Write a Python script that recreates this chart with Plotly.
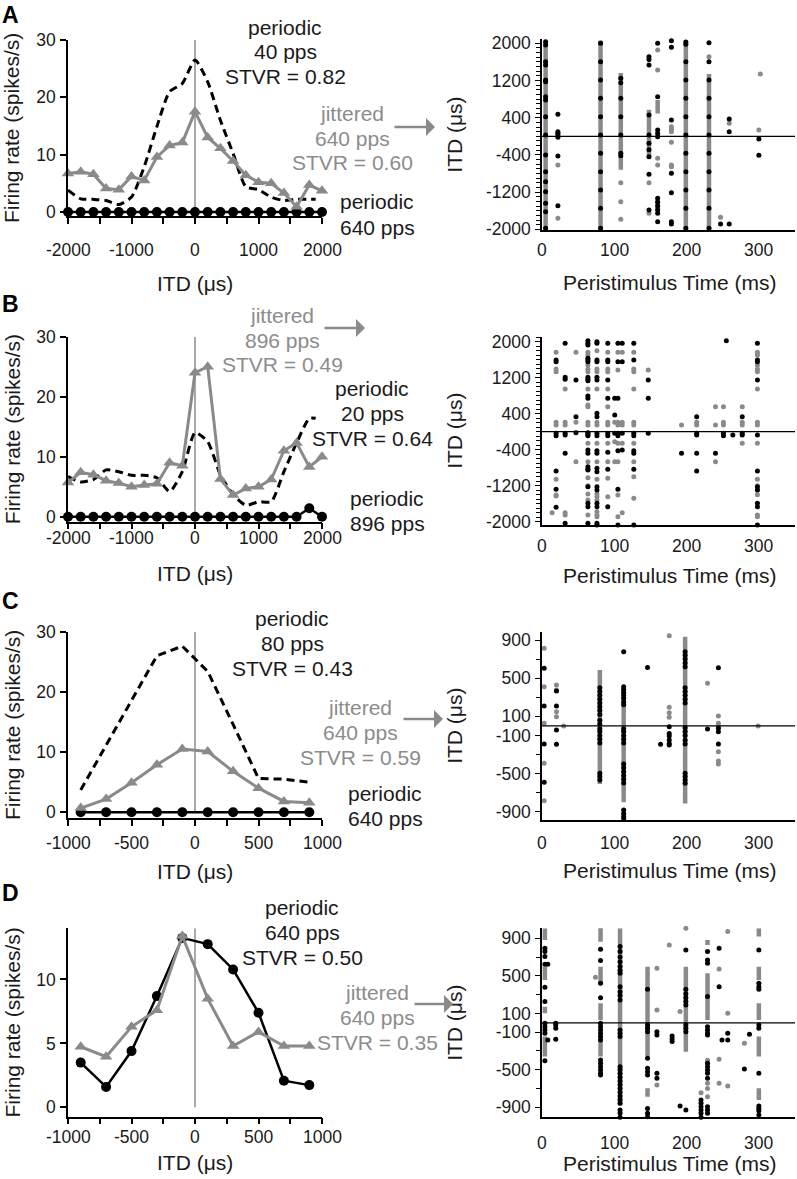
import plotly.graph_objects as go

W, H = 797, 1179
FONT = "Liberation Sans, Arial, sans-serif"
GRAY = "#8a8a8a"
TXTGRAY = "#8c8c8c"

# ---------------- tuning-curve data ----------------
itd_AB = [-2000, -1800, -1600, -1400, -1200, -1000, -800, -600, -400, -200, 0,
          200, 400, 600, 800, 1000, 1200, 1400, 1600, 1800, 2000]
itd_dash_AB = [-2000, -1800, -1600, -1400, -1200, -1000, -800, -600, -400, -200, 0,
               200, 400, 600, 800, 1000, 1200, 1400, 1600, 1800, 1900]
itd_CD = [-900, -700, -500, -300, -100, 100, 300, 500, 700, 900]

A_periodic40 = [3.8, 2.3, 2.2, 2.0, 1.3, 2.6, 7.9, 14.9, 21.0, 22.4, 26.5,
                22.7, 16.0, 10.2, 4.4, 3.9, 2.6, 2.0, 2.2, 2.2, 2.2]
A_jittered640 = [6.7, 7.0, 6.6, 4.1, 3.9, 6.2, 5.5, 9.6, 11.6, 12.1, 17.5,
                 13.0, 11.1, 8.9, 6.4, 5.2, 5.0, 3.3, 0.9, 4.7, 3.7]
A_periodic640 = [0] * 21

B_periodic20 = [6.7, 5.8, 6.2, 7.8, 7.5, 6.9, 6.9, 6.5, 4.2, 7.5, 14.0,
                12.5, 7.0, 3.7, 1.9, 2.5, 2.5, 7.5, 12.3, 16.4, 16.4]
B_jittered896 = [5.7, 7.4, 7.0, 6.0, 5.6, 5.0, 5.3, 5.5, 9.0, 8.5, 24.0,
                 25.0, 6.3, 3.6, 4.7, 5.0, 6.2, 11.0, 12.3, 8.3, 10.0]
B_periodic896 = [0, 0, 0, 0, 0, 0, 0, 0, 0, 0, 0, 0, 0, 0, 0, 0, 0, 0, 0, 1.4, 0]

C_periodic80 = [3.7, 11.1, 18.7, 26.0, 27.6, 23.4, 14.6, 5.6, 5.5, 5.0]
C_jittered640 = [0.7, 2.2, 4.9, 7.9, 10.5, 10.1, 6.8, 4.0, 1.8, 1.6]
C_periodic640 = [0] * 10

D_periodic640 = [3.5, 1.6, 4.4, 8.7, 13.25, 12.76, 10.78, 7.4, 2.08, 1.74]
D_jittered640 = [4.74, 3.96, 6.3, 7.6, 13.4, 8.5, 4.8, 5.9, 4.8, 4.8]

# tick labels
ticks_AB = [-2000, -1500, -1000, -500, 0, 500, 1000, 1500, 2000]
labels_AB = [-2000, -1000, 0, 1000, 2000]
ticks_CD = [-1000, -750, -500, -250, 0, 250, 500, 750, 1000]
labels_CD = [-1000, -500, 0, 500, 1000]
labels_time = [0, 100, 200, 300]
ylabels_rate = [[0, 10, 20, 30], [0, 10, 20, 30], [0, 10, 20, 30], [0, 5, 10]]
ylabels_itd_AB = [2000, 1200, 400, -400, -1200, -2000]
ylabels_itd_CD = [900, 500, 100, -100, -500, -900]

# ---------------- raster data: (time ms, ITD list) ----------------
A_gray_runs = [(5, 2050, -2050), (81, 2060, -2050), (109, 1360, -720), (148, 570, -440),
               (160, 780, 490), (199, 2060, -2050), (231, 1340, -1990)]
A_gray = [(22, [-616, -1763]), (109, [-1000, -1405, -1785]), (148, [-996, -1656]),
          (160, [1857, 1427, -473, -616, -1400, -1480, -1550]),
          (179, [208, 150, 100, -129, -616, -652]), (231, [1713]), (247, [-1742]),
          (259, [280]), (300, [136]), (302, [1340])]
A_black = [(5, [2036, 1964, 1606, 1534, 1212, 1176, 853, 781, 423, 29, -401, -760, -975,
                -1190, -1441, -1620, -1978]),
           (22, [473, 100, 65, 30, -20, -423, -1491]),
           (81, [2000, 1606, 1212, 817, 423, 29, -365, -760, -1154, -1548, -1978, -2030]),
           (109, [1250, 1150, 817, 423, 29, -365, -420]),
           (148, [1713, 1650, 1534, 459, 29, -150, -290, -437, -817, -1584]),
           (160, [2000, 853, 136, 60, -7, -1333, -1420, -1500, -1584, -1656, -1835]),
           (179, [2057, 1914, 351, -796, -1211, -1835, -1885]),
           (199, [2030, 1980, 1606, 1212, 817, 423, 29, -365, -760, -1154, -1548, -1978, -2030]),
           (231, [2014, 1606, 1212, 817, 423, 29, -365, -760, -1154, -1548, -1978]),
           (247, [-1885]), (259, [373, 100, -1885]), (300, [-57, -408])]

B_gray_runs = []
B_gray = [(14, [-1800]), (19.5, [1763, 1393, 1333, 207, 148, -1059, -1407, -1430]),
          (32, [948, 207, 148, -1800, -1852]), (47, [1763, 207, -667]),
          (63.5, [1763, 1704, 1481, 1393, 1333, 948, 593, 556, 207, 148, -259, -667, -1022,
                  -1200, -1385, -1519, -1852]),
          (76, [1800, 1393, 1333, 948, 207, 148, -259, -667, -1059, -1385, -1444, -1519,
                -1778, -1852, -1889]),
          (91, [1763, 1393, 1333, 948, 556, 207, 148, -259, -667, -1037, -1444]),
          (100.6, [207, -222, -667]),
          (105, [1763, 1370, 207, 148, -259, -667, -1407, -1889]),
          (111, [1763, 207, 148, -259, -1800]),
          (127, [1763, 1393, 1333, 948, 207, 148, -259, -667, -1000, -1481]),
          (147, [1370]), (193, [148]), (214, [207, 148]), (240, [556, 148, -667]),
          (251, [556, 207, 148]), (277, [556, 207, 148, -259]),
          (298, [1763, 1704, 1481, 1393, 1333, 948, 207, 148, -259, -1059, -1200, -1296,
                 -1400, -1852, -1889])]
B_black = [(19.5, [1593, 1556, -37, -89, -874, -1281, -1681]),
           (32, [1963, 1207, 1163, -37, -74, -481, -2037]),
           (47, [1148, 333, -22]),
           (63.5, [2022, 1963, 1926, 1630, 1593, 1556, 1207, 1163, 1133, 793, 741, -22, -37,
                   -74, -89, -407, -481, -778, -837, -852, -1222, -1593, -1667, -2037]),
           (76, [2000, 1963, 1593, 1556, 1207, 1148, 407, 333, -37, -89, -422, -481, -815,
                 -889, -1222, -1296, -1593, -1667, -2037, -2074]),
           (91, [1963, 1593, 1556, 1148, 741, -37, -89, -459, -837, -1667]),
           (100.6, [741, 370, -37]),
           (105, [1963, 1556, 741, -37, -89, -422, -1281, -2074]),
           (111, [1963, 1556, -37, -407]),
           (127, [1963, 1593, -37, -89, -422, -481, -837, -2074]),
           (147, [1148, 741, -37]), (193, [-481]), (214, [333, -37, -74, -481, -874]),
           (240, [-481]), (251, [-37, -89]), (255, [2022]), (264, [-74]),
           (277, [333, -37, -74]),
           (298, [1963, 1593, 1556, 1148, -74, -874, -1222, -1296, -1593, -1667, -2074])]

C_gray_runs = [(80, 585, -610), (113, 411, -800), (198, 935, -813)]
C_gray = [(3, [813, 411, 26, -393, -785]), (20, [428, 376, 149, 96]), (30, [-2]),
          (113, [1005]), (176, [945, 194, 138, 89]), (229, [446]),
          (244, [103, 26, -9, -271, -369, -400]), (299, [-2])]
C_black = [(3, [603, 208, -191, -592]), (20, [365, 208, -44, -194]),
           (80, [400, 360, 320, 280, 240, 200, 160, 120, 60, 20, -30, -60, -100, -140,
                 -180, -498, -530, -568]),
           (113, [778, 411, 380, 350, 320, 290, 250, 220, -30, -60, -100, -140, -180, -400,
                  -440, -480, -520, -560, -600, -883, -920, -950, -970]),
           (146, [613]), (164, [-194]), (176, [-9, -79, -107, -149, -184, -201]),
           (198, [778, 740, 700, 660, 620, 400, 360, 320, 280, 240, -20, -60, -100, -150,
                  -190, -498, -530, -568, -603]),
           (229, [-33]), (244, [610, -26, -61, -191])]

D_gray_runs = [(4, 1006, 882), (4, 598, 456), (4, 172, 101), (4, -147, -360),
               (81, 1024, 864), (81, 598, 421), (81, 208, 30), (81, -147, -360),
               (108, 1006, -880), (146, 598, -360), (146, -697, -786),
               (199, 598, -307), (229, 882, 829), (229, 527, 30),
               (300, 1006, 918), (300, 598, 456), (300, 208, 30), (300, -147, -360),
               (300, -697, -822)]
D_gray = [(74, [485]), (159, [581, 137, -662]), (176, [829]), (191, [119]), (199, [1006]),
          (220, [-744]), (229, [-400, -430, -644, -700, -786]), (245, [573, -389, -644]),
          (257, [971, 101, -673]), (280, [-218])]
D_black = [(4, [793, 760, 705, 623, 378, 226, -5, -41, -76, -112, -403]),
           (8, [623, -183]), (19, [-5, -23, -58, -176]),
           (81, [783, 662, 421, 268, -5, -41, -76, -112, -147, -183, -396, -431, -467, -502,
                 -538, -555]),
           (108, [811, 760, 700, 650, 600, 560, 527, 385, 330, 290, 243, -76, -112, -147,
                  -467, -500, -540, -580, -620, -660, -700, -740, -780, -820, -857, -928,
                  -960, -1006]),
           (146, [357, -23, -58, -94, -378, -485, -520, -555, -911, -964, -1000]),
           (159, [-94, -129, -538, -591]), (180, [-140, -170, -200]), (191, [-886]),
           (199, [776, 357, 310, 268, 226, 190, -23, -58, -94, -928]),
           (220, [-822, -857, -893, -928, -964, -1006]),
           (229, [758, 669, 634, 279, -41, -76, -112, -129, -431, -467, -502, -538, -591,
                  -893, -928, -964]),
           (245, [793, 385]), (249, [-183]), (257, [-112, -183]), (280, [-492]),
           (287, [-122]),
           (300, [776, 421, 385, 357, -23, -58, -538, -886, -911, -935, -982])]

# ---------------- layout geometry (pixels) ----------------
LEFT_X = (68, 322)
RIGHT_X = (542, 795)
left_rows = [(40, 216), (336.7, 521.7), (631.7, 818.3), (928.3, 1116.7)]
right_rows = [(39.3, 230), (336.7, 525), (631.7, 820), (928.3, 1117.3)]
left_yrange = [[-0.7, 30], [-0.83, 30], [-1.0, 30], [-0.73, 14]]
right_yrange = [[-2014, 2086], [-2074, 2111], [-987, 987], [-1006, 1006]]
left_xlabel_y = [250, 538, 843, 1137]
right_xlabel_y = [250, 546.5, 843, 1143]


def dx(a, b):
    return [a / W, b / W]


def dy(top, bottom):
    return [1 - bottom / H, 1 - top / H]


def px(x):
    return x / W


def py(y):
    return 1 - y / H


def flat(cols):
    xs, ys = [], []
    for t, vals in cols:
        for v in vals:
            xs.append(t)
            ys.append(v)
    return xs, ys


def runs(rs):
    xs, ys = [], []
    for t, a, b in rs:
        xs += [t, t, None]
        ys += [a, b, None]
    return xs, ys


fig = go.Figure()
layout = dict(template="none", width=W, height=H, margin=dict(l=0, r=0, t=0, b=0, pad=0),
              paper_bgcolor="white", plot_bgcolor="white", showlegend=False,
              font=dict(family=FONT, color="#1a1a1a"))

tickfont = dict(family=FONT, size=17.5, color="#1a1a1a")

curves = [
    [(itd_dash_AB, A_periodic40, "dash"), (itd_AB, A_periodic640, "circle"),
     (itd_AB, A_jittered640, "tri")],
    [(itd_dash_AB, B_periodic20, "dash"), (itd_AB, B_periodic896, "circle"),
     (itd_AB, B_jittered896, "tri")],
    [(itd_CD, C_periodic80, "dashlin"), (itd_CD, C_periodic640, "circle"),
     (itd_CD, C_jittered640, "tri")],
    [(itd_CD, D_periodic640, "circle"), (itd_CD, D_jittered640, "tri")],
]
rasters = [(A_gray_runs, A_gray, A_black), (B_gray_runs, B_gray, B_black),
           (C_gray_runs, C_gray, C_black), (D_gray_runs, D_gray, D_black)]

shapes = []
ann = []


def text(x, y, s, size=21, color="#1a1a1a", angle=0, xanchor="center", xref="paper"):
    ann.append(dict(x=px(x) if xref == "paper" else x, y=py(y), xref=xref, yref="paper",
                    text=s, showarrow=False, xanchor=xanchor, yanchor="middle",
                    textangle=angle, font=dict(family=FONT, size=size, color=color)))


for i in range(4):
    lx, ly = ("x", "y") if i == 0 else (f"x{2*i+1}", f"y{2*i+1}")
    rx, ry = f"x{2*i+2}", f"y{2*i+2}"
    lxk = "xaxis" if i == 0 else f"xaxis{2*i+1}"
    lyk = "yaxis" if i == 0 else f"yaxis{2*i+1}"
    wide = i < 2
    xt = ticks_AB if wide else ticks_CD
    xl = labels_AB if wide else labels_CD
    xr = [-2000, 2000] if wide else [-1000, 1000]
    yt = ylabels_rate[i]
    layout[lxk] = dict(domain=dx(*LEFT_X), range=xr, anchor=ly,
                       showline=True, linecolor="black", linewidth=1.5,
                       ticks="outside", ticklen=6, tickwidth=1.5,
                       tickcolor="black", tickvals=xt, showticklabels=False,
                       showgrid=False, zeroline=False, automargin=False)
    layout[lyk] = dict(domain=dy(*left_rows[i]), range=left_yrange[i],
                       anchor=lx, showline=True, linecolor="black",
                       linewidth=1.5, ticks="outside", ticklen=6,
                       tickwidth=1.5, tickcolor="black", tickvals=yt,
                       ticktext=[str(v) for v in yt], showgrid=False,
                       zeroline=False, tickfont=tickfont, automargin=False,
                       ticklabelstandoff=1)
    ryt = ylabels_itd_AB if wide else ylabels_itd_CD
    if wide:
        minor = dict(tickmode="linear", tick0=0, dtick=100, ticks="outside", ticklen=4,
                     tickwidth=1.2, tickcolor="black", showgrid=False)
    else:
        minor = dict(tickmode="linear", tick0=100, dtick=200, ticks="outside", ticklen=4,
                     tickwidth=1.2, tickcolor="black", showgrid=False)
    layout[f"xaxis{2*i+2}"] = dict(domain=dx(*RIGHT_X), range=[0, 350], anchor=ry,
                                   showline=True, linecolor="black", linewidth=1.5,
                                   ticks="", showticklabels=False, showgrid=False,
                                   zeroline=False, automargin=False)
    layout[f"yaxis{2*i+2}"] = dict(domain=dy(*right_rows[i]), range=right_yrange[i],
                                   anchor=rx, showline=True, linecolor="black",
                                   linewidth=1.5, ticks="outside", ticklen=5,
                                   tickwidth=1.2, tickcolor="black", tickvals=ryt,
                                   ticktext=[str(v) for v in ryt], minor=minor,
                                   showgrid=False, zeroline=False, tickfont=tickfont,
                                   automargin=False, ticklabelstandoff=1)

    # x tick labels placed on each axis' own data scale
    for v in xl:
        text(v, left_xlabel_y[i], str(v), size=17.5, xref=lx)
    for v in labels_time:
        text(v, right_xlabel_y[i], str(v), size=17.5, xref=rx)

    shapes.append(dict(type="line", xref=lx, yref=ly, x0=0, x1=0, y0=0,
                       y1=left_yrange[i][1], line=dict(color="#8c8c8c", width=1.5),
                       layer="below"))
    shapes.append(dict(type="line", xref=rx, yref=ry, x0=0, x1=350, y0=0, y1=0,
                       line=dict(color="black", width=1.3), layer="above"))

    for xs, ys, style in curves[i]:
        if style in ("dash", "dashlin"):
            fig.add_trace(go.Scatter(x=xs, y=ys, mode="lines", xaxis=lx, yaxis=ly,
                                     line=dict(color="black", width=3, dash="8px,5px",
                                               shape="spline" if style == "dash" else "linear",
                                               smoothing=0.6),
                                     cliponaxis=False))
        elif style == "circle":
            fig.add_trace(go.Scatter(x=xs, y=ys, mode="lines+markers", xaxis=lx, yaxis=ly,
                                     line=dict(color="black", width=2.5),
                                     marker=dict(symbol="circle", size=10, color="black"),
                                     cliponaxis=False))
        else:
            fig.add_trace(go.Scatter(x=xs, y=ys, mode="lines+markers", xaxis=lx, yaxis=ly,
                                     line=dict(color=GRAY, width=3),
                                     marker=dict(symbol="triangle-up", size=11, color=GRAY),
                                     cliponaxis=False))

    gr, gd, bd = rasters[i]
    if gr:
        rxs, rys = runs(gr)
        fig.add_trace(go.Scatter(x=rxs, y=rys, mode="lines", xaxis=rx, yaxis=ry,
                                 line=dict(color=GRAY, width=4.5), cliponaxis=False))
    gx, gy = flat(gd)
    fig.add_trace(go.Scatter(x=gx, y=gy, mode="markers", xaxis=rx, yaxis=ry,
                             marker=dict(size=5, color=GRAY), cliponaxis=False))
    bx, by = flat(bd)
    fig.add_trace(go.Scatter(x=bx, y=by, mode="markers", xaxis=rx, yaxis=ry,
                             marker=dict(size=5, color="black"), cliponaxis=False))

layout["shapes"] = shapes


def block(x, y_first, lines, color="#1a1a1a", step=25):
    for k, s in enumerate(lines):
        text(x, y_first + k * step, s, color=color)


def arrow(x0, x1, y):
    ann.append(dict(x=px(x1), y=py(y), xref="paper", yref="paper", text="",
                    showarrow=True, ax=x0 - x1, ay=0, arrowhead=1, arrowsize=1.2,
                    arrowwidth=2.5, arrowcolor=GRAY, standoff=0))


letters = [("A", 15), ("B", 304), ("C", 601), ("D", 893)]
for L, y in letters:
    text(0, y, f"<b>{L}</b>", size=23, color="black", xanchor="left")

for i in range(4):
    lt, lb = left_rows[i]
    rt, rb = right_rows[i]
    text(12, (lt + lb) / 2, "Firing rate (spikes/s)", angle=-90)
    text(455, (rt + rb) / 2, "ITD (μs)", angle=-90)

for y in [283, 573, 872, 1162]:
    text(195, y, "ITD (μs)")
for y in [282, 575, 870, 1163]:
    text(670, y, "Peristimulus Time (ms)")

# panel A
block(285, 27, ["periodic", "40 pps", "STVR = 0.82"])
block(352, 113, ["jittered", "640 pps", "STVR = 0.60"], color=TXTGRAY)
arrow(393, 435, 127)
block(377, 202, ["periodic", "640 pps"])
# panel B
block(282, 315, ["jittered", "896 pps", "STVR = 0.49"], color=TXTGRAY)
arrow(323, 365, 328)
block(372, 388, ["periodic", "20 pps", "STVR = 0.64"])
block(387, 498, ["periodic", "896 pps"])
# panel C
block(292, 618, ["periodic", "80 pps", "STVR = 0.43"])
block(360, 707, ["jittered", "640 pps", "STVR = 0.59"], color=TXTGRAY)
arrow(402, 443, 719)
block(385, 793, ["periodic", "640 pps"])
# panel D
block(302, 907, ["periodic", "640 pps", "STVR = 0.50"])
block(377, 992, ["jittered", "640 pps", "STVR = 0.35"], color=TXTGRAY)
arrow(413, 453, 1004)

layout["annotations"] = ann
fig.update_layout(**layout)
fig.write_html("out.html", config={"displayModeBar": False},
               post_script="document.body.style.margin='0';document.body.style.padding='0';")
